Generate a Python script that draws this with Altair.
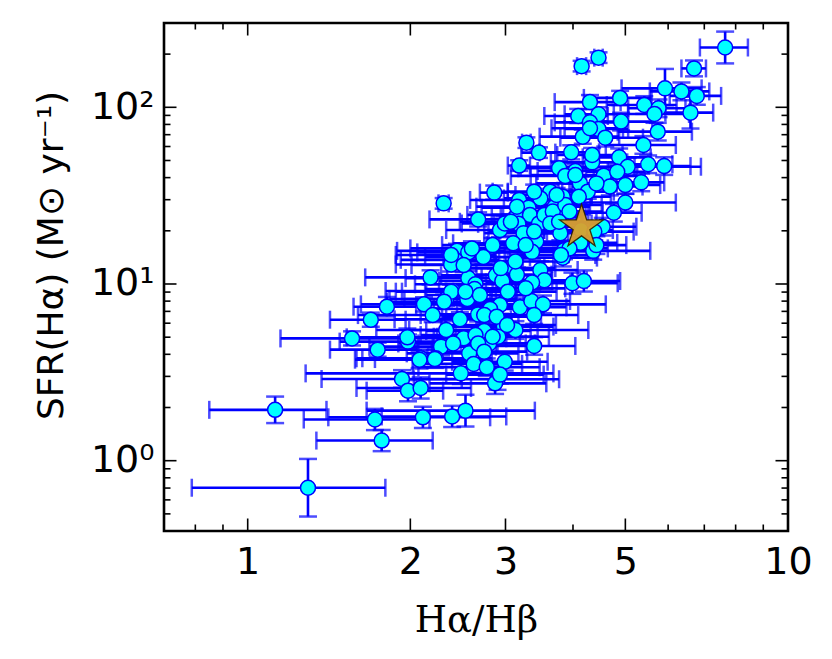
import altair as alt
import pandas as pd

# ---- data (Halpha/Hbeta vs SFR) ----
x_ratio = [7.65, 4.46, 4.15, 6.70, 5.92, 6.35, 6.78, 4.89, 4.30, 5.42,
           5.76, 5.66, 6.60, 4.09, 4.46, 4.91, 4.30, 4.46, 5.74, 4.17,
           4.59, 3.28, 3.46, 3.97, 5.40, 4.87, 4.34, 3.18, 3.77, 5.05,
           5.51, 5.90, 4.04, 3.87, 4.56, 4.83, 5.35, 4.12, 4.68, 2.86,
           3.63, 4.26, 3.18, 3.48, 4.10, 3.83, 2.305, 3.31, 3.70, 5.00,
           4.76, 2.67, 3.15, 3.33, 3.57, 3.77, 2.93, 3.17, 3.46, 3.24,
           4.54, 3.79, 4.14, 3.10, 3.42, 4.13, 2.44, 2.56, 3.36, 3.85,
           4.36, 2.73, 2.42, 2.38, 3.83, 2.18, 3.11, 3.48, 2.56, 2.88,
           3.15, 3.54, 2.64, 2.96, 3.36, 3.99, 4.19, 2.40, 2.63, 3.03,
           2.33, 1.81, 2.12, 2.55, 2.93, 3.19, 3.35, 3.52, 1.69, 2.20,
           2.47, 2.67, 2.81, 3.39, 1.56, 1.98, 2.33, 2.51, 2.74, 2.98,
           3.13, 1.74, 2.28, 2.57, 2.80, 2.91, 3.39, 2.09, 2.23, 2.62,
           2.77, 2.99, 1.93, 2.48, 2.90, 2.87, 1.98, 2.09, 1.124, 1.72,
           2.11, 2.39, 2.53, 1.77, 1.293, 2.93, 2.08, 2.22, 1.975,
           3.54, 3.67, 3.87, 3.94, 2.99, 3.07, 3.63, 4.38, 4.42, 3.94,
           3.80, 3.27, 2.38, 2.60, 3.13, 2.38, 2.53, 2.69, 2.31, 2.74,
           2.89, 2.64, 2.84, 3.02, 2.40, 2.67, 2.74, 4.04, 4.34, 4.30,
           5.00, 4.42, 3.73, 3.39, 3.15, 3.77, 3.39, 2.84, 2.51, 2.94,
           3.27]
x_err = [0.78, 0.08, 0.08, 0.35, 1.00, 0.80, 0.74, 0.70, 0.60, 0.80,
         0.70, 0.90, 0.67, 0.55, 0.60, 0.70, 0.60, 0.60, 0.90, 0.70,
         0.80, 0.06, 0.25, 0.50, 0.80, 0.70, 0.70, 0.15, 0.60, 1.85,
         0.60, 0.70, 0.60, 0.80, 0.70, 0.60, 0.55, 0.70, 0.70, 0.17,
         0.60, 0.50, 0.60, 0.50, 0.60, 0.50, 0.05, 0.60, 0.60, 1.20,
         0.60, 0.50, 0.60, 0.50, 0.60, 0.50, 0.60, 0.50, 0.60, 0.50,
         0.70, 0.50, 0.60, 0.70, 0.50, 0.70, 0.55, 0.50, 0.50, 0.60,
         1.20, 0.60, 0.50, 0.50, 0.60, 0.53, 0.60, 0.60, 0.60, 0.60,
         0.50, 0.70, 0.60, 0.70, 0.60, 0.85, 0.70, 0.60, 0.50, 0.70,
         0.50, 0.24, 0.50, 0.60, 0.60, 0.70, 0.60, 1.08, 0.27, 0.60,
         0.60, 0.50, 0.60, 0.70, 0.41, 0.50, 0.60, 0.50, 0.60, 0.70,
         1.14, 0.32, 0.60, 0.60, 0.60, 0.70, 0.65, 0.50, 0.60, 0.60,
         0.70, 0.60, 0.56, 1.20, 0.87, 0.70, 0.32, 0.50, 0.275, 0.45,
         0.70, 0.62, 0.87, 0.43, 0.505, 0.60, 0.50, 0.50, 0.45,
         0.60, 0.55, 0.65, 0.60, 0.50, 0.60, 0.70, 0.80, 0.60, 0.70,
         0.60, 0.50, 0.50, 0.60, 0.55, 0.50, 0.60, 0.55, 0.50, 0.65,
         0.60, 0.55, 0.60, 0.70, 0.50, 0.60, 0.55, 0.70, 0.60, 0.65,
         0.80, 0.60, 0.60, 0.55, 0.50, 0.65, 0.60, 0.55, 0.50, 0.60,
         0.60]
sfr = [218, 191, 171, 166, 128, 123, 116, 113, 107, 103,
       98.7, 91.7, 93.3, 89.3, 91.3, 83.0, 82.2, 75.4, 72.8, 68.2,
       67.3, 63.1, 55.4, 55.6, 61.2, 52.1, 48.8, 46.8, 45.2, 46.1,
       47.6, 46.5, 43.6, 40.9, 41.0, 43.2, 37.6, 37.1, 35.6, 32.9,
       33.3, 33.3, 29.9, 30.5, 31.2, 31.2, 28.6, 27.0, 27.4, 28.9,
       25.3, 23.2, 24.6, 24.6, 24.0, 24.8, 20.2, 21.9, 22.0, 19.4,
       21.1, 19.4, 20.2, 17.0, 17.4, 17.1, 15.4, 15.1, 15.2, 15.5,
       15.4, 14.2, 13.7, 12.9, 14.1, 10.9, 12.3, 12.0, 10.8, 11.2,
       11.3, 10.5, 9.96, 10.4, 10.2, 10.1, 10.4, 9.13, 9.37, 9.05,
       8.23, 7.44, 7.67, 8.23, 7.61, 7.38, 8.01, 7.67, 6.28, 6.67,
       6.31, 6.73, 7.22, 6.67, 4.92, 4.72, 5.49, 4.93, 5.42, 5.74,
       5.49, 4.25, 4.42, 4.05, 4.61, 5.03, 4.46, 3.80, 3.80, 3.53,
       3.38, 3.63, 2.90, 3.12, 2.89, 2.74, 2.49, 2.58, 1.94, 1.71,
       1.76, 1.78, 1.92, 1.30, 0.703, 3.07, 3.73, 3.76, 4.99,
       24.6, 25.7, 28.0, 25.7, 22.0, 22.5, 22.0, 19.8, 16.6, 15.9,
       14.6, 16.6, 14.6, 15.9, 13.4, 9.05, 9.05, 8.66, 7.94, 6.67,
       6.53, 5.14, 5.03, 5.86, 4.61, 4.61, 4.14, 41.4, 53.7, 76.1,
       36.3, 37.1, 31.9, 33.3, 27.4, 22.5, 19.8, 16.6, 12.8, 12.3,
       9.45]
sfr_err_dex = [0.09, 0.03, 0.03, 0.045, 0.11, 0.05, 0.05, 0.04, 0.04, 0.05,
               0.05, 0.05, 0.09, 0.04, 0.04, 0.05, 0.04, 0.04, 0.05, 0.04,
               0.05, 0.03, 0.03, 0.04, 0.05, 0.05, 0.04, 0.03, 0.04, 0.05,
               0.05, 0.05, 0.04, 0.04, 0.05, 0.04, 0.05, 0.04, 0.05, 0.04,
               0.04, 0.04, 0.04, 0.04, 0.04, 0.04, 0.03, 0.04, 0.04, 0.05,
               0.05, 0.04, 0.04, 0.04, 0.04, 0.04, 0.04, 0.04, 0.04, 0.04,
               0.05, 0.04, 0.04, 0.04, 0.04, 0.05, 0.04, 0.04, 0.04, 0.05,
               0.05, 0.04, 0.04, 0.04, 0.05, 0.04, 0.04, 0.05, 0.04, 0.04,
               0.04, 0.05, 0.04, 0.05, 0.04, 0.06, 0.06, 0.04, 0.04, 0.05,
               0.04, 0.055, 0.04, 0.04, 0.05, 0.05, 0.05, 0.05, 0.04, 0.04,
               0.04, 0.04, 0.05, 0.05, 0.04, 0.04, 0.05, 0.04, 0.05, 0.05,
               0.05, 0.04, 0.05, 0.05, 0.05, 0.05, 0.05, 0.05, 0.05, 0.05,
               0.05, 0.05, 0.05, 0.06, 0.06, 0.06, 0.06, 0.06, 0.075, 0.06,
               0.06, 0.06, 0.09, 0.06, 0.163, 0.05, 0.05, 0.05, 0.05,
               0.04, 0.04, 0.04, 0.04, 0.04, 0.04, 0.04, 0.05, 0.05, 0.04,
               0.04, 0.04, 0.04, 0.04, 0.04, 0.04, 0.04, 0.04, 0.04, 0.05,
               0.05, 0.05, 0.05, 0.05, 0.05, 0.05, 0.05, 0.04, 0.04, 0.04,
               0.05, 0.04, 0.04, 0.04, 0.04, 0.04, 0.04, 0.04, 0.04, 0.04,
               0.04]

star_x = [4.148]
star_y = [21.0]

x_tick_values = [1, 2, 3, 5, 10]
y_tick_values = [1, 10, 100]
y_tick_texts = ["10\u2070", "10\u00b9", "10\u00b2"]
x_major = [1, 2, 3, 5]
x_minor = [0.8, 0.9, 4, 6, 7, 8, 9]
y_major = [1, 10, 100]
y_minor = [0.4, 0.5, 0.6, 0.7, 0.8, 0.9, 2, 3, 4, 5, 6, 7, 8, 9,
           20, 30, 40, 50, 60, 70, 80, 90, 200]

# ---- styling ----
W, H = 624, 508
BLUE = "#0000FF"
CYAN = "#00FFFF"
MAJ, MIN = 12.5, 6.5
STAR = ("M0,-1L0.2245,-0.309L0.951,-0.309L0.363,0.118L0.588,0.809L0,0.382"
        "L-0.588,0.809L-0.363,0.118L-0.951,-0.309L-0.2245,-0.309Z")

df = pd.DataFrame({"x": x_ratio, "xerr": x_err, "y": sfr, "ed": sfr_err_dex})
df["x_lo"] = df["x"] - df["xerr"]
df["x_hi"] = df["x"] + df["xerr"]
df["y_lo"] = df["y"] / (10 ** df["ed"])
df["y_hi"] = df["y"] * (10 ** df["ed"])

xs = alt.Scale(type="log", domain=[0.7, 10], nice=False)
ys = alt.Scale(type="log", domain=[0.4, 300], nice=False)

label_expr = " : ".join(
    f"datum.value == {v} ? '{t}'" for v, t in zip(y_tick_values[:-1], y_tick_texts[:-1])
) + f" : '{y_tick_texts[-1]}'"

x_axis = alt.Axis(values=x_tick_values, format="~g", ticks=False, domain=False, grid=False,
                  labelFont="DejaVu Sans", labelFontSize=38, labelColor="black",
                  labelPadding=12, labelFlush=False, labelOverlap=False,
                  title="H\u03b1/H\u03b2", titleFont="DejaVu Serif", titleFontSize=37,
                  titleFontWeight="normal", titleColor="black",
                  titleBaseline="alphabetic", titleY=100)
y_axis = alt.Axis(values=y_tick_values, labelExpr=label_expr, ticks=False, domain=False,
                  grid=False, labelFont="DejaVu Sans", labelFontSize=38, labelColor="black",
                  labelPadding=10, labelOverlap=False,
                  title="SFR(H\u03b1) (M\u2299 yr\u207b\u00b9)", titleFont="DejaVu Sans",
                  titleFontSize=36, titleFontWeight="normal", titleColor="black",
                  titleAngle=270, titleBaseline="alphabetic", titleX=-102,
                  titleY=H / 2 - 22, titleAlign="center")


def X(field):
    return alt.X(field, type="quantitative", scale=xs, axis=x_axis)


def Y(field):
    return alt.Y(field, type="quantitative", scale=ys, axis=y_axis)


base = alt.Chart(df)
xbars = base.mark_rule(color=BLUE, strokeWidth=2.6).encode(x=X("x_lo"), x2="x_hi", y=Y("y"))
ybars = base.mark_rule(color=BLUE, strokeWidth=2.6).encode(x=X("x"), y=Y("y_lo"), y2="y_hi")
cap_xl = base.mark_tick(color=BLUE, thickness=2.5, size=18, orient="vertical").encode(
    x=X("x_lo"), y=Y("y"))
cap_xh = base.mark_tick(color=BLUE, thickness=2.5, size=18, orient="vertical").encode(
    x=X("x_hi"), y=Y("y"))
cap_yl = base.mark_tick(color=BLUE, thickness=2.5, size=18, orient="horizontal").encode(
    x=X("x"), y=Y("y_lo"))
cap_yh = base.mark_tick(color=BLUE, thickness=2.5, size=18, orient="horizontal").encode(
    x=X("x"), y=Y("y_hi"))
pts = base.mark_point(shape="circle", filled=True, fill=CYAN, stroke=BLUE,
                      strokeWidth=1.5, size=225, opacity=1).encode(x=X("x"), y=Y("y"))

star = alt.Chart(pd.DataFrame({"x": star_x, "y": star_y})).mark_point(
    shape=STAR, filled=True, fill="#D9A02C", fillOpacity=0.95, stroke="#2b2000",
    strokeWidth=1.3, strokeOpacity=0.9, size=2130, opacity=1).encode(x=X("x"), y=Y("y"))


def xticks(vals, length):
    d = alt.Chart(pd.DataFrame({"t": vals}))
    bot = d.mark_rule(color="black", strokeWidth=1.6).encode(
        x=X("t"), y=alt.value(H), y2=alt.value(H - length))
    top = d.mark_rule(color="black", strokeWidth=1.6).encode(
        x=X("t"), y=alt.value(0), y2=alt.value(length))
    return [bot, top]


def yticks(vals, length):
    d = alt.Chart(pd.DataFrame({"t": vals}))
    left = d.mark_rule(color="black", strokeWidth=1.6).encode(
        y=Y("t"), x=alt.value(0), x2=alt.value(length))
    right = d.mark_rule(color="black", strokeWidth=1.6).encode(
        y=Y("t"), x=alt.value(W), x2=alt.value(W - length))
    return [left, right]


tick_layers = xticks(x_major, MAJ) + xticks(x_minor, MIN) + yticks(y_major, MAJ) + yticks(y_minor, MIN)

chart = alt.layer(xbars, ybars, cap_xl, cap_xh, cap_yl, cap_yh, pts, star, *tick_layers).properties(
    width=W, height=H,
    autosize=alt.AutoSizeParams(type="none"),
    padding={"left": 156, "top": 15, "right": 36, "bottom": 120},
    background="white",
).configure_view(stroke="black", strokeWidth=2.6).configure_axis(grid=False)

chart.save("out.html", embed_options={"renderer": "svg", "actions": False})
